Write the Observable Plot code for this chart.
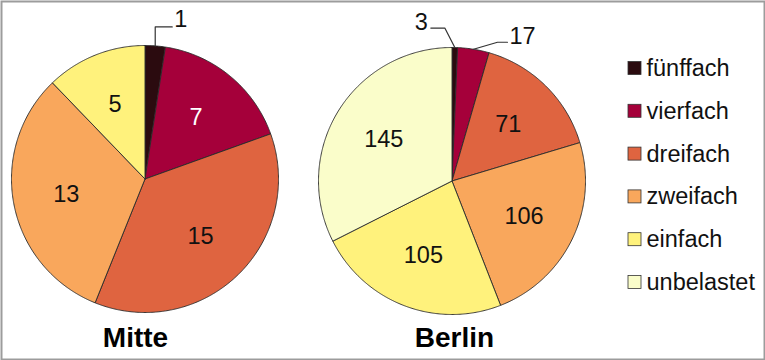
<!DOCTYPE html>
<html><head><meta charset="utf-8">
<script src="https://cdn.jsdelivr.net/npm/d3@7"></script>
<script src="https://cdn.jsdelivr.net/npm/@observablehq/plot@0.6"></script>
<style>body{margin:0;background:#fff}</style>
</head><body><div id="chart"></div>
<script>
// ---- data ----
const categories = ["fünffach", "vierfach", "dreifach", "zweifach", "einfach", "unbelastet"];
const mitteValues = [1, 7, 15, 13, 5, 0];
const berlinValues = [3, 17, 71, 106, 105, 145];
const pieNames = ["Mitte", "Berlin"];
const colors = ["#2b0b0f", "#a5003a", "#df6440", "#f9a75c", "#fff27c", "#fafdca"];

// ---- layout (pixels) ----
const W = 765, H = 360, R = 133.5, LABEL_R = 0.6;
const layout = {
  Mitte:  {cx: 144.5, cy: 178.5, titleX: 135},
  Berlin: {cx: 451.5, cy: 180.5, titleX: 454}
};
const titleY = 338;
const callouts = [
  {pie: "Mitte",  cat: "fünffach", elbow: [0, -19],   end: [17, -19], text: [19, -26], anchor: "start"},
  {pie: "Berlin", cat: "fünffach", elbow: [-10, -19.5], end: [-24, -19.5], text: [-27, -25.5], anchor: "end"},
  {pie: "Berlin", cat: "vierfach", elbow: [24, -7],   end: [34, -7],  text: [36, -13], anchor: "start"}
];
const legendX = 628, legendY0 = 68, legendStep = 42.8, sq = 13;

// ---- geometry from the values ----
const series = {Mitte: mitteValues, Berlin: berlinValues};
const slicePts = [], labels = [], leaders = [], calloutTexts = [];
for (const pie of pieNames) {
  const vals = series[pie];
  const total = d3.sum(vals);
  const {cx, cy} = layout[pie];
  let acc = 0;
  vals.forEach((v, i) => {
    const cat = categories[i];
    const a0 = acc / total * 2 * Math.PI;
    acc += v;
    const a1 = acc / total * 2 * Math.PI;
    if (v <= 0) return;
    const key = pie + "|" + cat;
    slicePts.push({key, cat, x: cx, y: cy});
    const n = Math.max(2, Math.ceil((a1 - a0) / (Math.PI / 360)));
    for (let k = 0; k <= n; k++) {
      const a = a0 + (a1 - a0) * k / n;
      slicePts.push({key, cat, x: cx + R * Math.sin(a), y: cy - R * Math.cos(a)});
    }
    slicePts.push({key, cat, x: cx, y: cy});
    const am = (a0 + a1) / 2;
    const co = callouts.find(c => c.pie === pie && c.cat === cat);
    if (co) {
      const px = cx + R * Math.sin(am), py = cy - R * Math.cos(am);
      leaders.push({key, x: px, y: py});
      leaders.push({key, x: px + co.elbow[0], y: py + co.elbow[1]});
      leaders.push({key, x: px + co.end[0], y: py + co.end[1]});
      calloutTexts.push({text: String(v), x: px + co.text[0], y: py + co.text[1], anchor: co.anchor});
    } else {
      labels.push({text: String(v), cat, x: cx + LABEL_R * R * Math.sin(am), y: cy - LABEL_R * R * Math.cos(am)});
    }
  });
}
const legendRows = categories.map((c, i) => ({cat: c, y: legendY0 + i * legendStep}));
const titles = pieNames.map(p => ({text: p, x: layout[p].titleX, y: titleY}));

const font = "Arial, 'Liberation Sans', sans-serif";
const FS = 23.5;
const chart = Plot.plot({
  width: W, height: H,
  marginTop: 0, marginRight: 0, marginBottom: 0, marginLeft: 0,
  x: {domain: [0, W], range: [0, W], axis: null},
  y: {domain: [0, H], range: [0, H], axis: null},
  color: {domain: categories, range: colors},
  style: {fontFamily: font, background: "#fff"},
  marks: [
    Plot.frame({stroke: "#9c9c9c", strokeWidth: 2, inset: 1}),
    Plot.line(slicePts, {x: "x", y: "y", z: "key", fill: "cat", stroke: "#2a2a2a", strokeWidth: 0.9, strokeLinejoin: "round"}),
    Plot.line(leaders, {x: "x", y: "y", z: "key", stroke: "#333", strokeWidth: 1.2}),
    Plot.text(labels.filter(d => d.cat !== "vierfach"), {x: "x", y: "y", text: "text", fill: "#111", fontSize: FS}),
    Plot.text(labels.filter(d => d.cat === "vierfach"), {x: "x", y: "y", text: "text", fill: "#fff", fontSize: FS}),
    Plot.text(calloutTexts.filter(d => d.anchor === "start"), {x: "x", y: "y", text: "text", fill: "#111", fontSize: FS, textAnchor: "start"}),
    Plot.text(calloutTexts.filter(d => d.anchor === "end"), {x: "x", y: "y", text: "text", fill: "#111", fontSize: FS, textAnchor: "end"}),
    Plot.text(titles, {x: "x", y: "y", text: "text", fill: "#000", fontSize: 28, fontWeight: "bold"}),
    Plot.rect(legendRows, {x1: legendX, x2: legendX + sq, y1: d => d.y - sq / 2, y2: d => d.y + sq / 2, fill: "cat", stroke: "#333", strokeWidth: 0.8}),
    Plot.text(legendRows, {x: legendX + sq + 5, y: "y", text: "cat", fill: "#111", fontSize: FS, textAnchor: "start"})
  ]
});
document.getElementById("chart").appendChild(chart);
</script>
</body></html>
